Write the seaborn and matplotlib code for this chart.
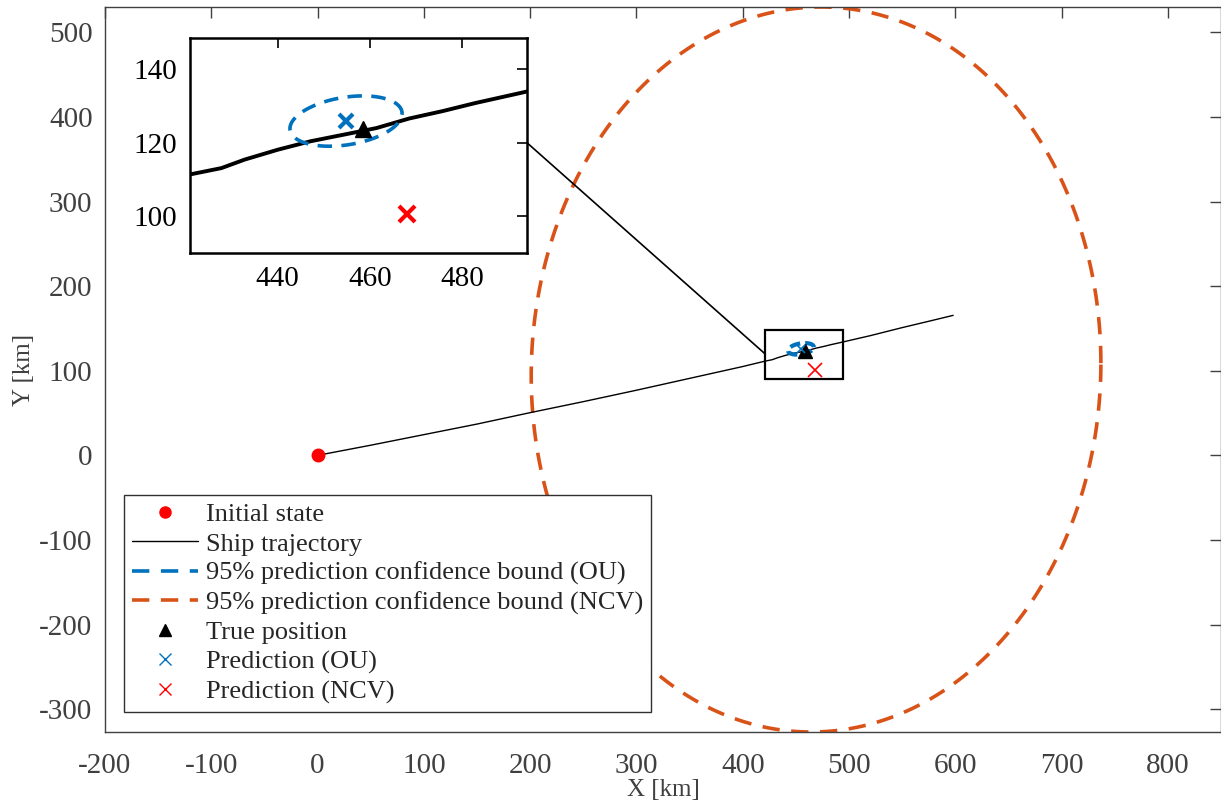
import numpy as np
import pandas as pd
import matplotlib
matplotlib.use("Agg")
import matplotlib.pyplot as plt
import seaborn as sns
from matplotlib.patches import ConnectionPatch, Rectangle
from matplotlib.lines import Line2D

# ---------------- data ----------------
traj_x = [0, 50, 100, 150, 200, 250, 300, 350, 400, 420.7, 427.8, 432.8, 440, 447.1,
          454.3, 461.4, 468.5, 475.7, 482.8, 492.8, 520, 550, 575, 598]
traj_y = [0, 12, 24.5, 37, 50.5, 63.5, 77, 91, 105, 111.3, 113.1, 115.4, 118.1, 120.4,
          122.2, 124.0, 126.6, 128.6, 130.8, 133.6, 141.5, 151, 158.5, 165.5]
initial_state = (0.0, 0.0)
true_position = (458.4, 123.8)
pred_ou = (454.8, 125.9)
pred_ncv = (468.0, 100.6)
ncv_bound_center = (469.0, 101.5)
# 95% bound ellipses: (sxx, syy, sxy) of the scaled covariance
cov_ou = (12.15 ** 2, 6.85 ** 2, 24.9)
cov_ncv = (268.0 ** 2, 428.5 ** 2, 2000.0)
labels = ["Initial state", "Ship trajectory", "95% prediction confidence bound (OU)",
          "95% prediction confidence bound (NCV)", "True position",
          "Prediction (OU)", "Prediction (NCV)"]
main_xlim = (-200, 850)
main_ylim = (-327, 530)
inset_xlim = (421, 494)
inset_ylim = (90, 148.5)
connector_y = 120

C_OU = "#0072BD"
C_NCV = "#D95319"
C_RED = "#FF0000"
GRAY = "#404040"


def ellipse(center, cov, n=300):
    sxx, syy, sxy = cov
    m = np.array([[sxx, sxy], [sxy, syy]])
    L = np.linalg.cholesky(m)
    t = np.linspace(0, 2 * np.pi, n)
    pts = L @ np.vstack([np.cos(t), np.sin(t)])
    return pd.DataFrame({"x": pts[0] + center[0], "y": pts[1] + center[1]})


traj = pd.DataFrame({"x": traj_x, "y": traj_y})
e_ou = ellipse(pred_ou, cov_ou)
e_ncv = ellipse(ncv_bound_center, cov_ncv)

sns.set_theme(style="white")
plt.rcParams["font.family"] = ["Liberation Serif", "DejaVu Serif"]
plt.rcParams["axes.unicode_minus"] = False

fig = plt.figure(figsize=(12.21, 8.02), dpi=100)
ax = fig.add_axes([105 / 1221, 70 / 802, 1116 / 1221, 725 / 802])

dash = (0, (4.8, 3.2))

# main axes
sns.lineplot(data=traj, x="x", y="y", sort=False, estimator=None, color="black",
             lw=1.0, ax=ax, zorder=3)
sns.lineplot(data=e_ncv, x="x", y="y", sort=False, estimator=None, color=C_NCV,
             lw=2.6, ax=ax, linestyle=dash, zorder=2)
sns.lineplot(data=e_ou, x="x", y="y", sort=False, estimator=None, color=C_OU,
             lw=3.0, ax=ax, linestyle=(0, (2.5, 1.2)), zorder=4)
ax.plot(*initial_state, "o", color=C_RED, ms=9, zorder=5)
ax.plot(*true_position, "^", color="black", ms=10, zorder=6)
ax.plot(*pred_ou, "x", color=C_OU, ms=6, mew=1.2, zorder=6)
ax.plot(*pred_ncv, "x", color=C_RED, ms=10, mew=1.2, zorder=6)

ax.add_patch(Rectangle((inset_xlim[0], inset_ylim[0]), inset_xlim[1] - inset_xlim[0],
                       inset_ylim[1] - inset_ylim[0], fill=False, ec="black", lw=1.6,
                       zorder=7))

ax.set_xlim(*main_xlim)
ax.set_ylim(*main_ylim)
ax.set_xticks(np.arange(-200, 801, 100))
ax.set_yticks(np.arange(-300, 501, 100))
ax.tick_params(direction="in", length=8, width=1, colors=GRAY, labelsize=21,
               top=True, right=True, pad=9)
ax.tick_params(axis="x", pad=15)
for s in ax.spines.values():
    s.set_color(GRAY)
    s.set_linewidth(1.0)
ax.set_xlabel("X [km]", fontsize=18, color=GRAY, labelpad=0)
ax.set_ylabel("Y [km]", fontsize=18, color=GRAY, labelpad=3)

handles = [
    Line2D([], [], marker="o", color=C_RED, ls="none", ms=8),
    Line2D([], [], color="black", lw=1.0),
    Line2D([], [], color=C_OU, lw=2.6, ls=dash),
    Line2D([], [], color=C_NCV, lw=2.6, ls=dash),
    Line2D([], [], marker="^", color="black", ls="none", ms=8),
    Line2D([], [], marker="x", color=C_OU, ls="none", ms=8, mew=1.0),
    Line2D([], [], marker="x", color=C_RED, ls="none", ms=8, mew=1.0),
]
leg = ax.legend(handles, labels, loc="lower left", bbox_to_anchor=(0.017, 0.028),
                borderaxespad=0, fontsize=19, frameon=True, fancybox=False,
                framealpha=1, edgecolor="#303030", handlelength=2.5,
                handletextpad=0.3, labelspacing=0.22, borderpad=0.3)
leg.get_frame().set_linewidth(1.0)
leg.set_zorder(10)

# inset
axi = fig.add_axes([190 / 1221, (802 - 253) / 802, 337 / 1221, 215 / 802])
axi.set_zorder(11)
axi.set_facecolor("white")
sns.lineplot(data=traj, x="x", y="y", sort=False, estimator=None, color="black",
             lw=2.8, ax=axi)
sns.lineplot(data=e_ou, x="x", y="y", sort=False, estimator=None, color=C_OU,
             lw=2.6, ax=axi, linestyle=(0, (4.0, 2.6)))
axi.plot(*pred_ou, "x", color=C_OU, ms=10, mew=3)
axi.plot(*true_position, "^", color="black", ms=12)
axi.plot(*pred_ncv, "x", color=C_RED, ms=11, mew=3)
axi.set_xlim(*inset_xlim)
axi.set_ylim(*inset_ylim)
axi.set_xticks([440, 460, 480])
axi.set_yticks([100, 120, 140])
axi.set_xlabel("")
axi.set_ylabel("")
axi.tick_params(direction="in", length=7, width=1.2, colors="black", labelsize=21,
                top=True, right=True, pad=9)
for s in axi.spines.values():
    s.set_color("black")
    s.set_linewidth(1.8)

con = ConnectionPatch(xyA=(inset_xlim[1], connector_y), coordsA=axi.transData,
                      xyB=(inset_xlim[0], connector_y), coordsB=ax.transData,
                      color="black", lw=1.2)
fig.add_artist(con)

fig.savefig("out.png", dpi=100)
